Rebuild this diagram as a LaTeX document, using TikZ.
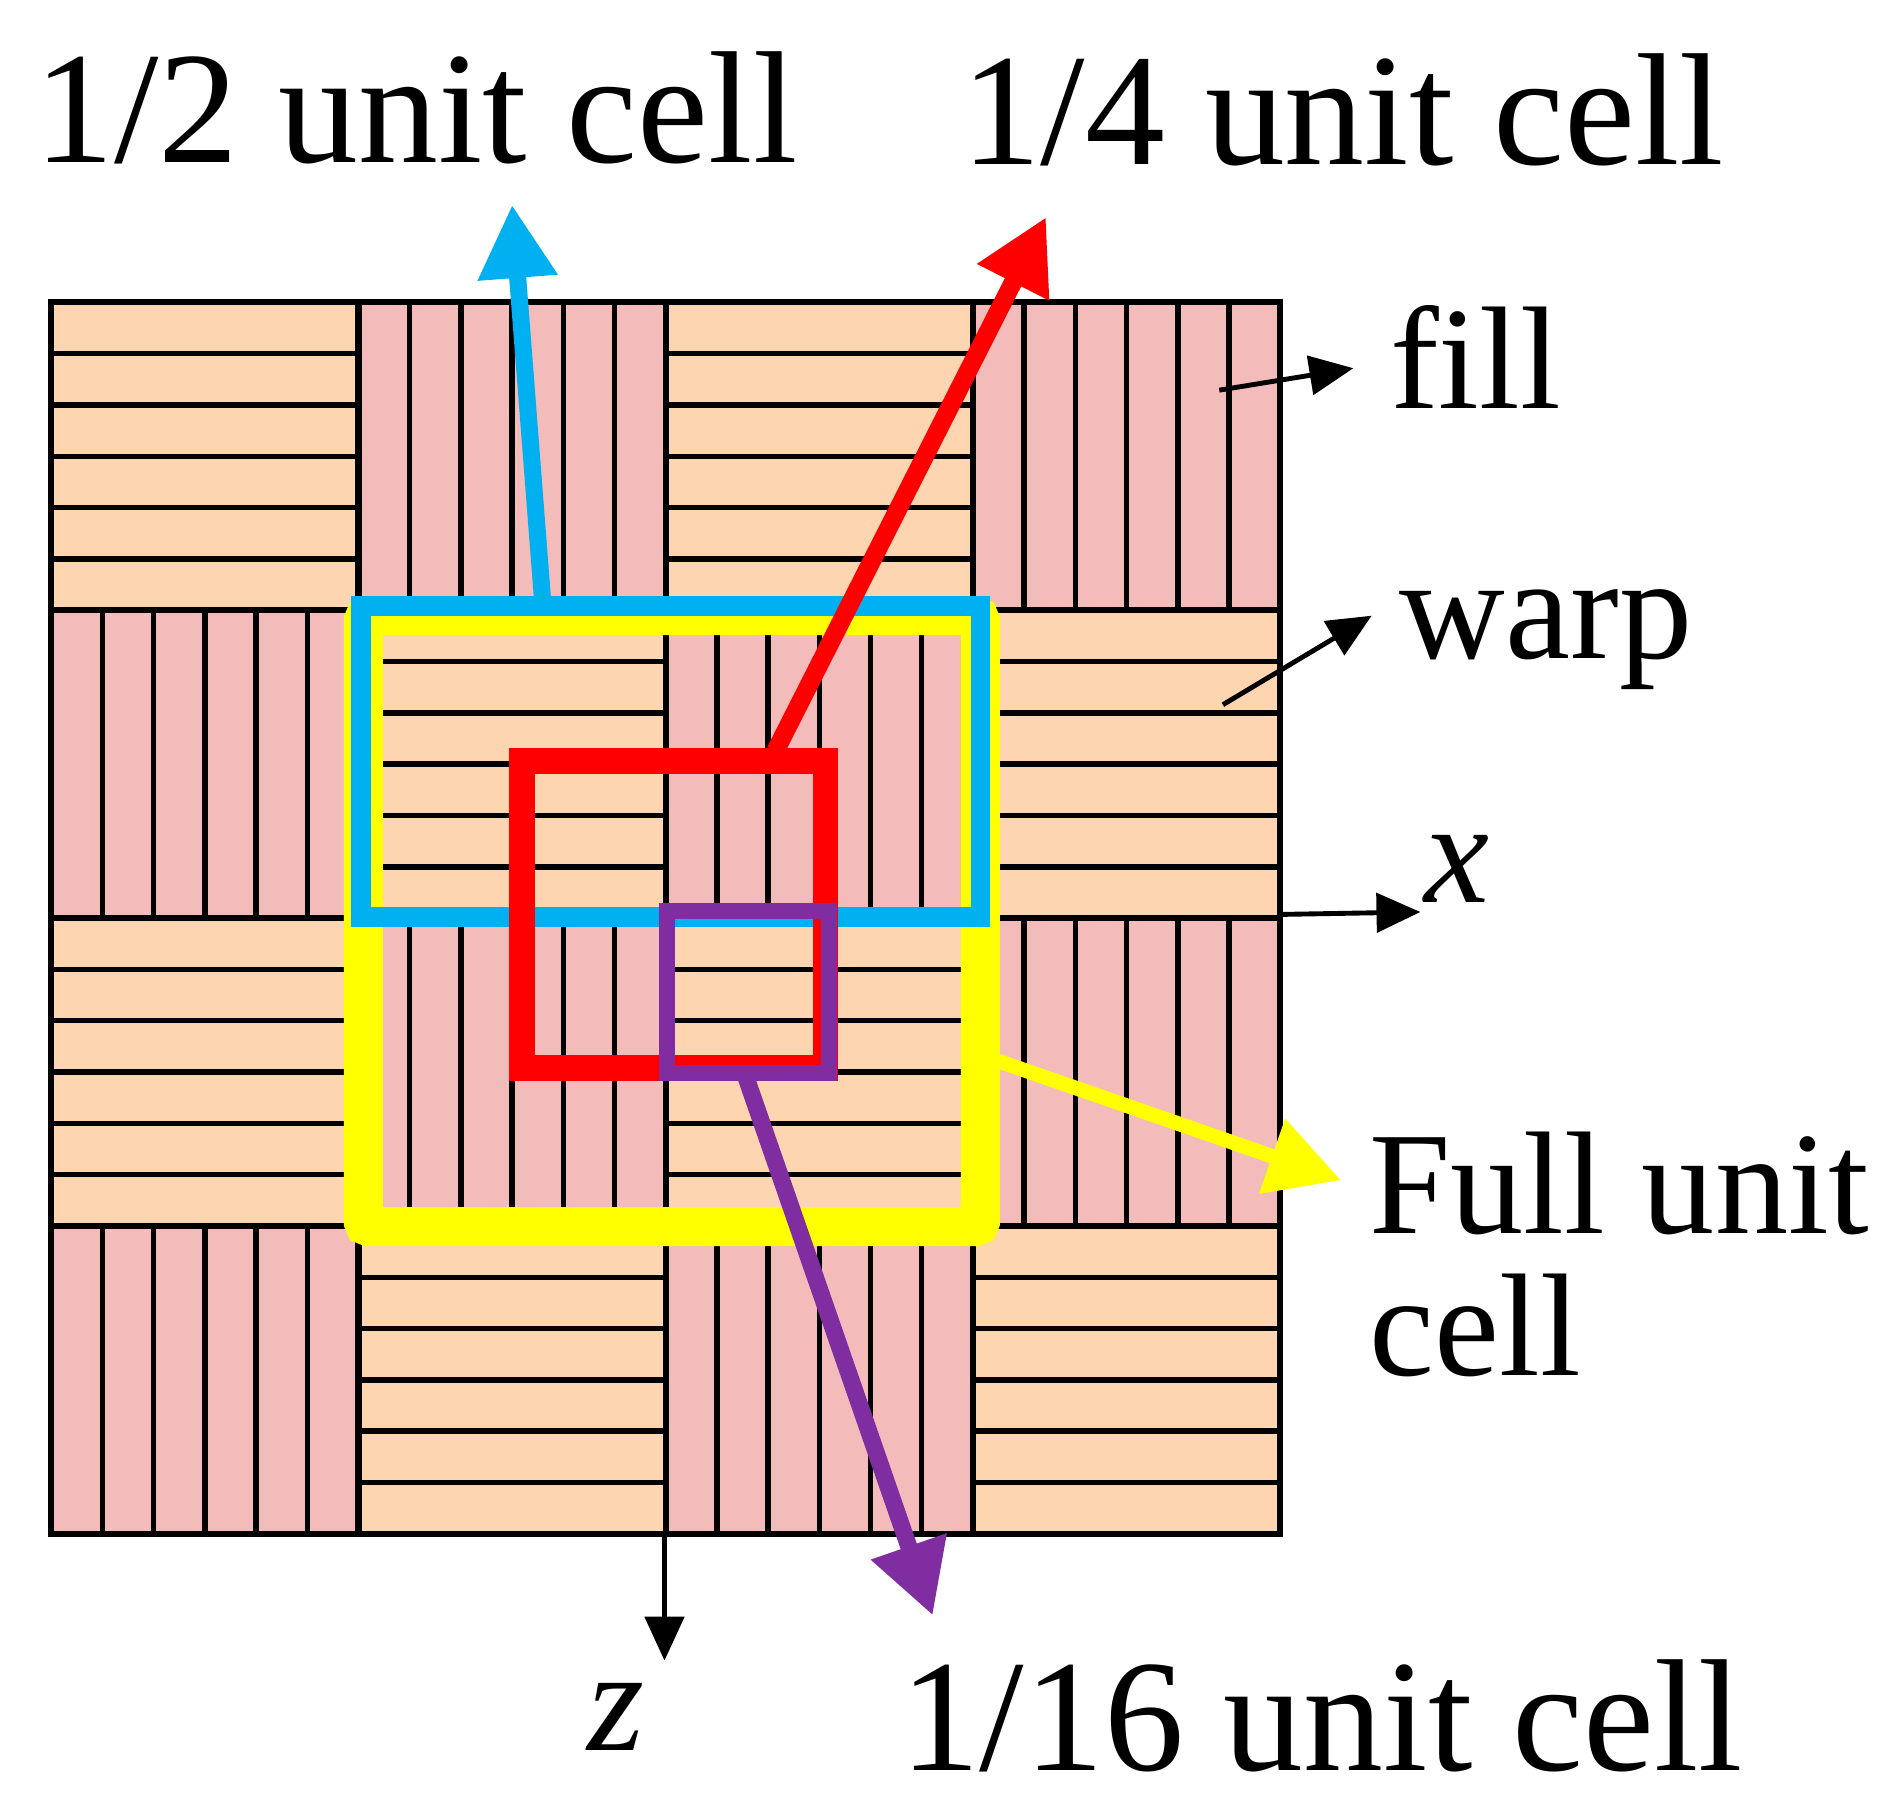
\documentclass[tikz,border=0pt]{standalone}
\usepackage{fontspec}
\setmainfont{Liberation Serif}
\usetikzlibrary{arrows.meta}
\definecolor{peach}{HTML}{FDD5B1}
\definecolor{pinkc}{HTML}{F4BBBB}
\definecolor{cyanc}{HTML}{00B0F0}
\definecolor{yel}{HTML}{FFFF00}
\definecolor{purp}{HTML}{7F2DA0}
\begin{document}
\begin{tikzpicture}[x=1pt,y=-1pt,
  big/.style={font=\fontsize{131}{140}\selectfont,inner sep=0pt},
  mid/.style={font=\fontsize{120}{125}\selectfont,inner sep=0pt},
  blk/.style={line width=4pt,-{Triangle[length=36pt,width=32pt]}},
  fat/.style={-{Triangle[length=60pt,width=62pt]}}]
\useasboundingbox (0,0) rectangle (1560,1489);
% cells
\foreach \r in {0,1,2,3}{\foreach \c in {0,1,2,3}{
  \pgfmathtruncatemacro{\p}{mod(\r+\c,2)}
  \pgfmathsetmacro{\xa}{42+252*\c}\pgfmathsetmacro{\ya}{248+252.5*\r}
  \ifnum\p=0
    \fill[peach] (\xa,\ya) rectangle ++(252,252.5);
    \foreach \k in {1,...,5}{\draw[line width=4.5pt] (\xa,\ya+42.08*\k) -- ++(252,0);}
  \else
    \fill[pinkc] (\xa,\ya) rectangle ++(252,252.5);
    \foreach \k in {1,...,5}{\draw[line width=4.5pt] (\xa+42*\k,\ya) -- ++(0,252.5);}
  \fi}}
\foreach \k in {1,2,3}{\draw[line width=5pt] (42+252*\k,248)--(42+252*\k,1258);
  \draw[line width=5pt] (42,248+252.5*\k)--(1050,248+252.5*\k);}
\draw[line width=5pt] (42,248) rectangle (1050,1258);
% boxes
\draw[yel,line width=32pt,rounded corners=4pt] (298,505) rectangle (804,1006);
\draw[cyanc,line width=16pt] (296,497) rectangle (804,752);
\draw[red,line width=21pt] (428,624) rectangle (677,876);
\draw[purp,line width=13pt] (547,747) rectangle (680,880);
% labels
\node[big,anchor=base west] (half) at (28,133) {1/2 unit cell};
\node[big,anchor=base west] (quart) at (788,135) {1/4 unit cell};
\node[mid,anchor=base west] (fill) at (1140,335) {fill};
\node[mid,anchor=base west] (warp) at (1148,540) {warp};
\node[mid,anchor=base west,align=left] (full) at (1123,1012) {Full unit};
\node[mid,anchor=base west] (cell) at (1123,1128) {cell};
\node[big,anchor=base west] (six) at (738,1452) {1/16 unit cell};
\node[mid,anchor=base west] (xl) at (1168,740) {\itshape x};
\node[mid,anchor=base west] (zl) at (482,1436) {\itshape z};
% arrows
\coordinate (b0) at (445,492); \coordinate (b1) at (420,168);
\draw[cyanc,line width=14pt,fat] (b0)--(b1);
\coordinate (r0) at (636,616); \coordinate (r1) at (858,178);
\draw[red,line width=15pt,fat] (r0)--(r1);
\coordinate (p0) at (612,884); \coordinate (p1) at (765,1325);
\draw[purp,line width=14pt,fat] (p0)--(p1);
\coordinate (y0) at (818,870); \coordinate (y1) at (1100,968);
\draw[yel,line width=12pt,fat] (y0)--(y1);
\coordinate (f0) at (1000,320); \coordinate (f1) at (1110,302);
\draw[blk] (f0)--(f1);
\coordinate (w0) at (1003,578); \coordinate (w1) at (1125,505);
\draw[blk] (w0)--(w1);
\coordinate (x0) at (1050,750); \coordinate (x1) at (1165,748);
\draw[blk] (x0)--(x1);
\coordinate (z0) at (545,1258); \coordinate (z1) at (545,1362);
\draw[blk] (z0)--(z1);
\end{tikzpicture}
\end{document}
